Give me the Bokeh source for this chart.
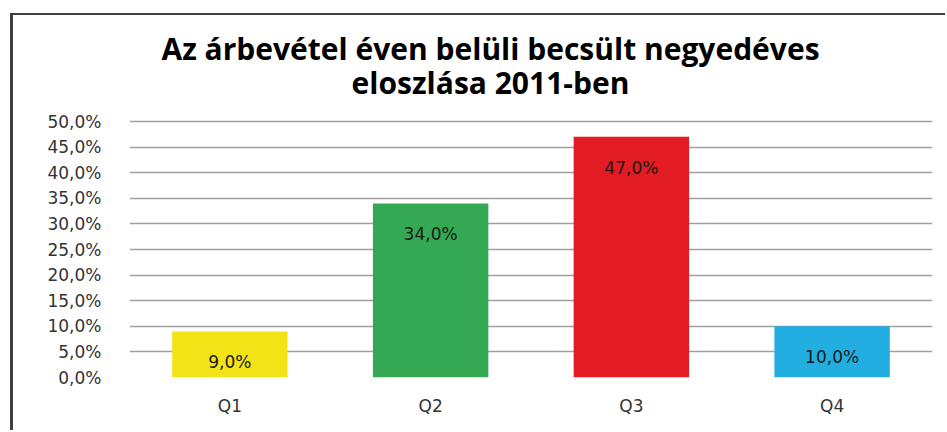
from bokeh.plotting import figure
from bokeh.models import ColumnDataSource, Label, FixedTicker, CustomJSTickFormatter, Range1d
from bokeh.embed import file_html
from bokeh.resources import INLINE
from bokeh.core.properties import value

categories = ["Q1", "Q2", "Q3", "Q4"]
values = [9.0, 34.0, 47.0, 10.0]
labels = ["9,0%", "34,0%", "47,0%", "10,0%"]
colors = ["#F2E316", "#34A853", "#E31B23", "#22AEE0"]
y_ticks = [0, 5, 10, 15, 20, 25, 30, 35, 40, 45, 50]
title_line1 = "Az árbevétel éven belüli becsült negyedéves"
title_line2 = "eloszlása 2011-ben"

src = ColumnDataSource(dict(cat=categories, val=values, lab=labels, col=colors))

fig_h = 417
border_top = 2
border_bottom = 55
frame_h = fig_h - border_top - border_bottom
axis_px = 256  # pixel height of the 0..50 % axis span
y_end = max(y_ticks) * frame_h / axis_px

p = figure(x_range=categories, y_range=Range1d(0, y_end), width=935, height=fig_h,
           output_backend="svg", toolbar_location=None,
           min_border_left=116, min_border_right=16, min_border_bottom=border_bottom,
           min_border_top=border_top)
p.margin = (13, 0, 0, 10)
p.styles = {"border-left": "3px solid #404040", "border-top": "2px solid #404040"}
p.outline_line_color = None

for txt, ypos in ((title_line1, 329), (title_line2, 295)):
    p.add_layout(Label(x=361, y=ypos, x_units="screen", y_units="screen", text=txt,
                       text_align="center", text_baseline="middle", text_font="Open Sans",
                       text_font_size="30px", text_font_style="bold", text_color="#000000"))

p.vbar(x="cat", top="val", width=0.575, fill_color="col", line_color=None, source=src)
p.text(x="cat", y="val", text="lab", source=src, text_align="center", text_baseline="middle",
       y_offset=31, text_font=value("DejaVu Sans"), text_font_size="17px", text_color="#1A1A1A")

p.yaxis.ticker = FixedTicker(ticks=y_ticks)
p.yaxis.formatter = CustomJSTickFormatter(code="return tick.toFixed(1).replace('.', ',') + '%';")
p.xgrid.grid_line_color = None
p.ygrid.grid_line_color = "#A0A0A0"
p.ygrid.grid_line_width = 1.5
for ax in (p.xaxis, p.yaxis):
    ax.axis_line_color = None
    ax.major_tick_line_color = None
    ax.minor_tick_line_color = None
    ax.major_label_text_font = "DejaVu Sans"
    ax.major_label_text_font_size = "17px"
    ax.major_label_text_color = "#333333"
p.yaxis.major_label_standoff = 22
p.xaxis.major_label_standoff = 12

open("out.html", "w").write(file_html(p, INLINE))
